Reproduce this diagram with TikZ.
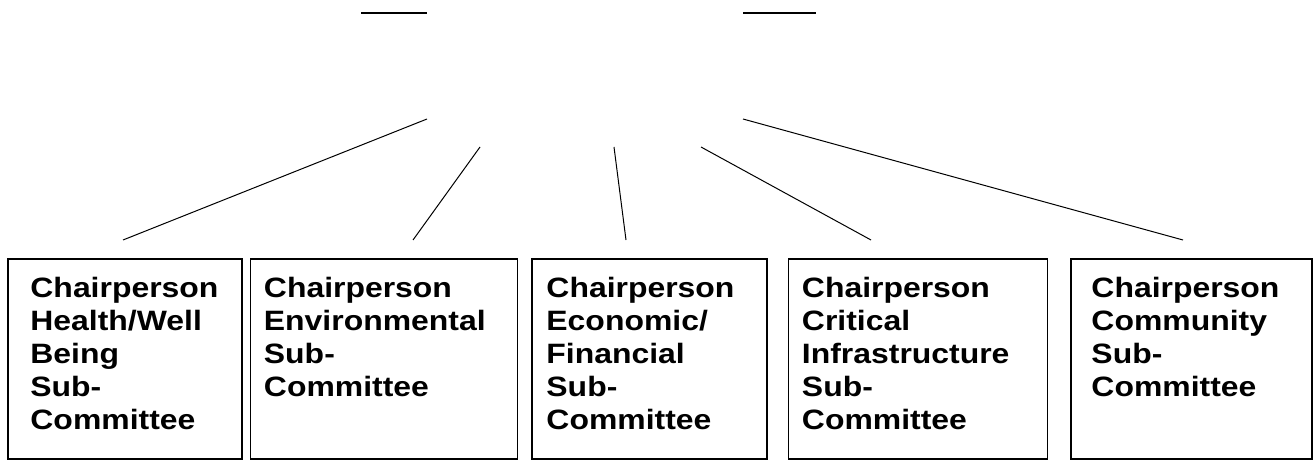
\documentclass[tikz,border=0pt]{standalone}
\usepackage{fontspec}
\newfontfamily\boxfont[FakeStretch=1.14]{Liberation Sans}
\usetikzlibrary{positioning}

\begin{document}
\begin{tikzpicture}[
    x=1pt, y=-1pt,
    box/.style={rectangle, draw, line width=1.5pt, minimum height=200pt},
    txt/.style={anchor=north west, inner sep=0pt, align=left, font=\boxfont\bfseries\fontsize{28}{33}\selectfont},
    link/.style={line width=1pt},
    bar/.style={line width=2pt}
]
    \useasboundingbox (0,0) rectangle (1313,462);
    % the sub-committee boxes
    \node[box, minimum width=234pt] (health) at (125,359) {};
    \node[box, minimum width=267pt, right=7pt of health] (environ) {};
    \node[box, minimum width=235pt, right=13pt of environ] (econ) {};
    \node[box, minimum width=259pt, right=20pt of econ] (infra) {};
    \node[box, minimum width=241pt, right=22pt of infra] (comm) {};
    \node[txt] (healthtxt) at ([shift={(23,19)}]health.north west) {Chairperson\\Health/Well\\Being\\Sub-\\Committee};
    \node[txt] (environtxt) at ([shift={(14,19)}]environ.north west) {Chairperson\\Environmental\\Sub-\\Committee};
    \node[txt] (econtxt) at ([shift={(15,19)}]econ.north west) {Chairperson\\Economic/\\Financial\\Sub-\\Committee};
    \node[txt] (infratxt) at ([shift={(14,19)}]infra.north west) {Chairperson\\Critical\\Infrastructure\\Sub-\\Committee};
    \node[txt] (commtxt) at ([shift={(21,19)}]comm.north west) {Chairperson\\Community\\Sub-\\Committee};
    % free ends of the links
    \coordinate (h1) at (427,119);
    \coordinate (h2) at (123,240);
    \coordinate (e1) at (480,147);
    \coordinate (e2) at (413,240);
    \coordinate (f1) at (614,147);
    \coordinate (f2) at (626,240);
    \coordinate (i1) at (701,147);
    \coordinate (i2) at (871,240);
    \coordinate (c1) at (743,119);
    \coordinate (c2) at (1183,240);
    \draw[link] (h1) -- (h2);
    \draw[link] (e1) -- (e2);
    \draw[link] (f1) -- (f2);
    \draw[link] (i1) -- (i2);
    \draw[link] (c1) -- (c2);
    % short bars at the top
    \coordinate (bl1) at (361,13);
    \coordinate (bl2) at (427,13);
    \coordinate (br1) at (743,13);
    \coordinate (br2) at (816,13);
    \draw[bar] (bl1) -- (bl2);
    \draw[bar] (br1) -- (br2);
\end{tikzpicture}
\end{document}
